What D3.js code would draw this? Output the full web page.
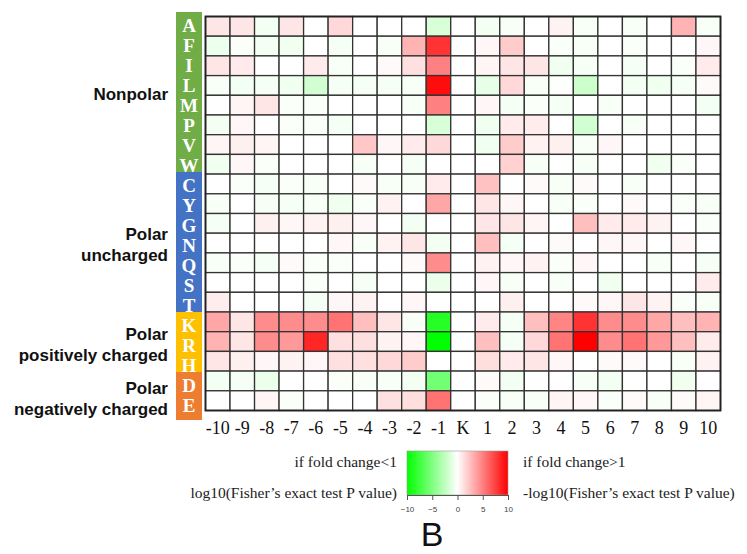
<!DOCTYPE html>
<html><head><meta charset="utf-8">
<script src="https://cdn.jsdelivr.net/npm/d3@7"></script>
<style>body{margin:0;background:#fff}svg{display:block}</style>
</head><body>
<svg id="c" width="747" height="554"></svg>
<script>
// ---- data ----
const positions = ["-10","-9","-8","-7","-6","-5","-4","-3","-2","-1","K","1","2","3","4","5","6","7","8","9","10"];
const aminoAcids = ["A","F","I","L","M","P","V","W","C","Y","G","N","Q","S","T","K","R","H","D","E"];
const groupNames = [["Nonpolar"],["Polar","uncharged"],["Polar","positively charged"],["Polar","negatively charged"]];
const groupSizes = [8,7,3,2];
const groupColors = ["#70ad47","#4472c4","#ffc000","#ed7d31"];
const legendTicks = [-10,-5,0,5,10];
// signed -log10(P): positive = enriched (fold change>1), negative = depleted
const rowA = [1,1,-0.5,1,0,1.5,0,0,0,-1.5,0, -0.5,-0.3,0,0.5,-0.3,0,-0.3,0,3,-0.3];
const rowF = [-0.7,-0.2,-0.5,-0.6,0,-0.4,0,-0.3,3,8,0, 0.3,2,0,-0.2,-0.3,0,-0.2,0,0,0.3];
const rowI = [1,0.8,0,0,0.8,-0.3,0,0.2,1.2,5,0, 0.4,1,1,-0.6,-0.4,0,-0.4,0,-0.2,0.8];
const rowL = [-0.3,-0.5,-0.4,-0.6,-1.8,-0.4,-0.4,-0.4,-0.3,9.5,0, -1,1.5,-0.3,-0.1,-2,0,-0.5,-0.6,-0.4,0.2];
const rowM = [0,0.4,1,-0.2,-0.2,0,0,0,-0.3,5,0, 0.3,-0.4,-0.2,-0.4,0,-0.3,0,0,0,-0.5];
const rowP = [-0.5,0.3,0,-0.2,-0.2,-0.4,0,0,0,-1.5,0, -0.6,0.8,0.7,0,-1.8,0,-0.3,0,0,0];
const rowV = [0.4,0.6,0.4,0,0,0,2.2,0.3,0.8,1.5,0, -0.6,2,0.5,0.6,-0.3,0.3,0,0,0,0];
const rowW = [-0.6,0.3,-0.2,0,0,0,-0.3,0,-0.4,0,0, 0,1.8,-0.3,0,-0.3,0,0,-0.6,-0.2,0];
const rowC = [0,-0.2,-0.4,-0.2,-0.3,0,0.2,-0.3,-0.3,0.8,0, 2.4,0,0.2,-0.3,0.2,0,-0.3,0,0,0];
const rowY = [-0.3,0,-0.4,-0.4,-0.3,-0.6,-0.2,0.5,0,3.5,0, 1,0.3,0,-0.3,-0.2,0,0.2,0,-0.2,-0.3];
const rowG = [-0.4,0,0.6,0.3,0.5,0.6,0.3,0,-0.5,0,0, 1,1,0.4,0,2.5,0.8,0.8,0.5,0,-0.2];
const rowN = [0,0,0,0,0,0.3,-0.3,0.5,1,-0.5,0, 2.5,-0.4,0,0.2,0,0.3,0.3,0,0.3,0];
const rowQ = [-0.3,-0.2,-0.4,0.2,-0.2,-0.2,0,0,0.2,4.5,0, 0.5,0.3,0.5,-0.2,0.3,0,0,-0.3,0,-0.4];
const rowS = [0,0,0,0,-0.2,0,-0.4,0,0,-0.8,0, 0.3,-0.3,0,-0.3,0,-0.6,0,0,0,0.8];
const rowT = [0.7,0,0,0,-0.4,0.3,0.5,0,0.3,0,0, 0,0.6,0,0,0.2,0.3,1,0.5,-0.2,-0.3];
const rowK = [3.5,1,4.5,4.5,4.5,5.5,2.5,1,-0.3,-8.5,0, 0.8,-0.4,2.5,4.8,8,4.5,4.5,3.5,2.5,3];
const rowR = [3,1,4.5,4,8.5,1.2,1.2,0.5,0.3,-10,0, 2.5,-0.4,1.5,5.5,10,4.5,5.5,4,2.5,0.8];
const rowH = [1,0.6,0.3,0.5,0.3,1.2,1.2,1.5,2,0,0, 1.3,0.8,1,0.3,0,0.2,0.2,0,-0.3,0.5];
const rowD = [-0.5,-0.4,-0.8,0,0,-0.2,-0.3,-0.3,-0.5,-5.5,0, 0.2,-0.5,0,0,-0.3,-0.5,0,0,-0.6,0];
const rowE = [0,0,0.4,-0.2,0,0,0,1.2,1.3,5.5,0, -0.2,-0.3,-0.3,0.4,0.3,-0.2,0.2,-0.3,0.2,0.4];
const values = [rowA,rowF,rowI,rowL,rowM,rowP,rowV,rowW,rowC,rowY,rowG,rowN,rowQ,rowS,rowT,rowK,rowR,rowH,rowD,rowE];

// ---- chart ----
const svg = d3.select("#c");
const color = d3.scaleLinear().domain([-10,0,10]).range(["#00ff00","#ffffff","#ff0000"]).clamp(true);

const x = d3.scaleBand().domain(positions).range([205.5,720.5]);
const y = d3.scaleBand().domain(aminoAcids).range([16.5,410.5]);

const cells = [];
values.forEach((row,i)=>row.forEach((v,j)=>cells.push({aa:aminoAcids[i],pos:positions[j],v})));
svg.append("g").selectAll("rect").data(cells).join("rect")
  .attr("x",d=>x(d.pos)).attr("y",d=>y(d.aa))
  .attr("width",x.bandwidth()).attr("height",y.bandwidth())
  .attr("fill",d=>color(d.v)).attr("stroke","#333").attr("stroke-width",1.3);
svg.append("rect").attr("x",205.5).attr("y",16.5).attr("width",515).attr("height",394)
  .attr("fill","none").attr("stroke","#222").attr("stroke-width",1.8);

// x labels
svg.append("g").selectAll("text").data(positions).join("text")
  .attr("x",d=>x(d)+x.bandwidth()/2).attr("y",434)
  .attr("text-anchor","middle").attr("font-family","Liberation Serif, Times New Roman, serif")
  .attr("font-size",18).attr("fill","#111").text(d=>d);

// side colour bar
const yb = d3.scaleBand().domain(aminoAcids).range([12,412]);
let start = 0;
const gs = svg.append("g");
groupSizes.forEach((n,gi)=>{
  const first = aminoAcids[start], last = aminoAcids[start+n-1];
  const y0 = yb(first), y1 = (gi===groupSizes.length-1) ? 420 : yb(last)+yb.bandwidth();
  gs.append("rect").attr("x",176).attr("y",y0).attr("width",26).attr("height",y1-y0).attr("fill",groupColors[gi]);
  const lines = groupNames[gi];
  const mid = (y0+y1)/2 + 2.5;
  const lh = 20.5;
  lines.forEach((t,li)=>{
    gs.append("text").attr("x",168).attr("y",mid + (li-(lines.length-1)/2)*lh)
      .attr("dy","0.35em").attr("text-anchor","end")
      .attr("font-family","Liberation Sans, Arial, sans-serif").attr("font-weight","bold")
      .attr("font-size",17).attr("fill","#111").text(t);
  });
  start += n;
});
gs.selectAll("text.aa").data(aminoAcids).join("text").attr("class","aa")
  .attr("x",189).attr("y",d=>yb(d)+yb.bandwidth()/2+3).attr("dy","0.35em")
  .attr("text-anchor","middle").attr("font-family","Liberation Serif, Times New Roman, serif")
  .attr("font-weight","bold").attr("font-size",19).attr("fill","#fff").text(d=>d);

// legend
const lx = d3.scaleLinear().domain([-10,10]).range([407,508]);
const defs = svg.append("defs");
const grad = defs.append("linearGradient").attr("id","lg");
[-10,-5,0,5,10].forEach(v=>grad.append("stop").attr("offset",(v+10)/20).attr("stop-color",color(v)));
svg.append("rect").attr("x",407).attr("y",451).attr("width",101).attr("height",44)
  .attr("fill","url(#lg)").attr("stroke","#999").attr("stroke-width",0.6);
const la = svg.append("g").attr("transform","translate(0,495)")
  .call(d3.axisBottom(lx).tickValues(legendTicks).tickSize(5).tickSizeOuter(0));
la.select(".domain").attr("stroke","#555");
la.selectAll(".tick line").attr("stroke","#555");
la.selectAll(".tick text").attr("font-family","Liberation Sans, Arial, sans-serif").attr("font-size",8).attr("fill","#444").attr("dy","1.1em");

const serif = "Liberation Serif, Times New Roman, serif";
svg.append("text").attr("x",397).attr("y",467).attr("text-anchor","end").attr("font-family",serif).attr("font-size",15.5).attr("fill","#222").text("if fold change<1");
svg.append("text").attr("x",397).attr("y",498).attr("text-anchor","end").attr("font-family",serif).attr("font-size",15.5).attr("fill","#222").text("log10(Fisher\u2019s exact test P value)");
svg.append("text").attr("x",523).attr("y",467).attr("text-anchor","start").attr("font-family",serif).attr("font-size",15.5).attr("fill","#222").text("if fold change>1");
svg.append("text").attr("x",523).attr("y",498).attr("text-anchor","start").attr("font-family",serif).attr("font-size",15.5).attr("fill","#222").text("-log10(Fisher\u2019s exact test P value)");
svg.append("text").attr("x",432).attr("y",546).attr("text-anchor","middle").attr("font-family","Liberation Sans, Arial, sans-serif").attr("font-size",34).attr("fill","#111").text("B");
</script>
</body></html>
